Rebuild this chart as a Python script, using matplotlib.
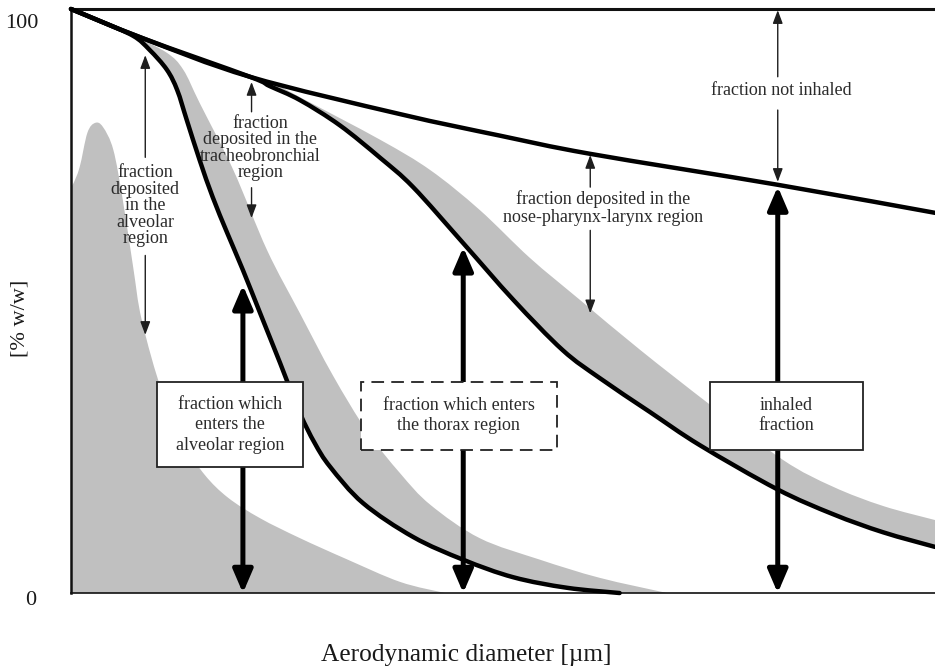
import matplotlib
matplotlib.use('Agg')
from matplotlib import pyplot as plt
from matplotlib.patches import Rectangle, PathPatch
from matplotlib.path import Path
import numpy as np

plt.rcParams['font.family'] = ['Liberation Serif', 'DejaVu Serif']

# curves, x in arbitrary diameter units (0-100), y in % w/w
inhaled_x = [0, 8.3, 20.7, 38.1, 49.7, 60.1, 81.8, 100]
inhaled_y = [100, 95.0, 88.4, 82.0, 78.3, 75.2, 69.9, 65.1]

thorax_x = [0, 8.3, 20.7, 23.0, 26.5, 31.1, 35.8, 39.6, 45.4, 51.2, 56.9, 61.2,
            67.0, 72.8, 81.7, 88.2, 94.0, 100]
thorax_y = [100, 95.0, 88.4, 86.8, 84.4, 80.1, 74.5, 69.5, 59.9, 50.2, 41.6, 36.8,
            31.0, 25.3, 17.8, 13.5, 10.4, 7.9]
thorax_band_x = [20.7, 23.4, 26.5, 35.8, 41.6, 47.3, 53.1, 58.9, 65.9, 74.0, 82.4,
                 88.2, 94.0, 100]
thorax_band_y = [88.2, 87.3, 84.9, 77.6, 72.4, 65.6, 57.4, 50.2, 41.6, 32.2, 22.8,
                 18.2, 14.9, 12.5]

alveolar_x = [0, 3.4, 7.2, 9.1, 11.1, 12.3, 13.4, 14.9, 16.4, 18.1, 19.9, 21.9,
              24.2, 26.5, 28.2, 30.0, 33.8, 39.6, 45.4, 51.2, 57.4, 63.5]
alveolar_y = [100, 97.9, 95.4, 93.0, 89.6, 86.1, 81.0, 74.1, 67.8, 61.6, 55.3, 47.9,
              39.4, 30.8, 25.7, 21.6, 15.4, 9.6, 5.7, 2.7, 0.9, 0]
alveolar_band_x = [7.2, 11.1, 13.0, 14.9, 18.8, 22.7, 26.5, 30.3, 34.3, 38.1, 41.6,
                   47.3, 54.3, 61.2, 69.0]
alveolar_band_y = [95.5, 92.5, 89.6, 83.9, 72.4, 58.7, 47.9, 37.3, 27.6, 20.5, 15.1,
                   9.4, 5.7, 2.6, 0]

dist_x = [0, 0.2, 1.0, 1.9, 2.8, 3.7, 4.9, 6.0, 7.2, 8.2, 10.6, 13.4, 15.5, 18.2,
          21.9, 26.5, 31.9, 38.1, 43.3]
dist_y = [69.9, 69.9, 72.9, 78.8, 80.5, 79.8, 75.9, 67.3, 55.8, 46.7, 34.2, 25.0,
          20.2, 16.3, 12.8, 9.4, 5.8, 1.9, 0]

GRAY = '#c0c0c0'
INK = '#1e1e1e'
TXT = '#2b2b2b'


def bezier(xs, ys):
    # smooth path through the read points (Catmull-Rom drawn as cubic Bezier)
    p = np.column_stack([xs, ys]).astype(float)
    verts = [p[0]]
    codes = [Path.MOVETO]
    n = len(p)
    for i in range(n - 1):
        p0 = p[i - 1] if i > 0 else p[i]
        p3 = p[i + 2] if i + 2 < n else p[i + 1]
        c1 = p[i] + (p[i + 1] - p0) / 6
        c2 = p[i + 1] - (p3 - p[i]) / 6
        verts += [c1, c2, p[i + 1]]
        codes += [Path.CURVE4] * 3
    return verts, codes


def band(xs1, ys1, xs2, ys2):
    # area between two left-to-right curves
    v1, c1 = bezier(xs1, ys1)
    v2, c2 = bezier(xs2[::-1], ys2[::-1])
    c2[0] = Path.LINETO
    verts = v1 + v2 + [v1[0]]
    codes = c1 + c2 + [Path.CLOSEPOLY]
    return Path(verts, codes)


fig = plt.figure(figsize=(9.35, 6.67), dpi=100)
ax = fig.add_axes([0.0759, 0.1109, 0.9241, 0.8756])
ax.set_xlim(0, 100)
ax.set_ylim(0, 100)

# grey areas
ax.add_patch(PathPatch(band(dist_x, dist_y, [0, dist_x[-1]], [0, 0]),
                       facecolor=GRAY, lw=0, zorder=1))
ax.add_patch(PathPatch(band(alveolar_x[2:], alveolar_y[2:], alveolar_band_x, alveolar_band_y),
                       facecolor=GRAY, lw=0, zorder=2))
ax.add_patch(PathPatch(band(thorax_x[2:], thorax_y[2:], thorax_band_x, thorax_band_y),
                       facecolor=GRAY, lw=0, zorder=2))

# black curves
for xs, ys in [(inhaled_x, inhaled_y), (thorax_x, thorax_y), (alveolar_x, alveolar_y)]:
    v, c = bezier(xs, ys)
    ax.add_patch(PathPatch(Path(v, c), facecolor='none', edgecolor='black', lw=3.2,
                           capstyle='round', joinstyle='round', zorder=3, clip_on=False))


def thin_arrow(x, y_from, y_to):
    ax.annotate('', xy=(x, y_to), xytext=(x, y_from),
                arrowprops=dict(arrowstyle='-|>,head_length=0.8,head_width=0.3',
                                mutation_scale=10, color=INK, lw=1.0,
                                shrinkA=0, shrinkB=0), zorder=4)


def thick_arrow(x, y_top):
    ax.annotate('', xy=(x, y_top), xytext=(x, 0),
                arrowprops=dict(arrowstyle='<|-|>,head_length=1.4,head_width=0.6',
                                mutation_scale=10, color='black', lw=3.6,
                                shrinkA=0, shrinkB=0), zorder=4)


def label(x, y, s, spacing=0.96, size=13):
    ax.text(x, y, s, ha='center', va='center', fontsize=size, color=TXT,
            linespacing=spacing, zorder=6)


def box(x0, x1, y0, y1, dashed=False):
    ax.add_patch(Rectangle((x0, y0), x1 - x0, y1 - y0, facecolor='white',
                           edgecolor='#222222', lw=1.3, zorder=5,
                           linestyle=(0, (7, 4)) if dashed else '-'))


# thin annotations
thin_arrow(8.6, 74.6, 92.1)
thin_arrow(8.6, 57.8, 44.2)
label(8.6, 66.3, 'fraction\ndeposited\nin the\nalveolar\nregion')

thin_arrow(20.9, 82.4, 87.5)
thin_arrow(20.9, 69.4, 64.2)
label(21.9, 76.2, 'fraction\ndeposited in the\ntracheobronchial\nregion')

thin_arrow(60.1, 69.5, 75.0)
thin_arrow(60.1, 62.1, 47.9)
label(61.6, 65.9, 'fraction deposited in the\nnose-pharynx-larynx region', spacing=1.05)

thin_arrow(81.8, 88.4, 99.8)
thin_arrow(81.8, 82.7, 70.4)
label(82.2, 86.1, 'fraction not inhaled')

# thick arrows with boxes
thick_arrow(19.9, 52.7)
box(9.95, 26.85, 21.6, 36.1)
label(18.4, 28.8, 'fraction which\nenters the\nalveolar region', spacing=1.25)

thick_arrow(45.4, 59.2)
box(33.6, 56.3, 24.5, 36.1, dashed=True)
label(44.9, 30.4, 'fraction which enters\nthe thorax region', spacing=1.25)

thick_arrow(81.8, 69.6)
box(74.0, 91.7, 24.5, 36.1)
label(82.8, 30.4, 'inhaled\nfraction', spacing=1.25)

# frame
ax.spines['right'].set_visible(False)
ax.spines['top'].set_linewidth(2.2)
ax.spines['left'].set_linewidth(1.8)
ax.spines['bottom'].set_linewidth(1.2)
for side in ['top', 'left', 'bottom']:
    ax.spines[side].set_color('#111111')
ax.set_xticks([])
ax.set_yticks([])

ax.text(-5.7, 97.6, '100', ha='center', va='center', fontsize=16, color='#1a1a1a',
        clip_on=False)
ax.text(-4.7, -1.2, '0', ha='center', va='center', fontsize=16, color='#1a1a1a',
        clip_on=False)
ax.text(-5.9, 47.1, '[% w/w]', ha='center', va='center', rotation=90, fontsize=16,
        color='#1a1a1a', clip_on=False)
ax.text(45.7, -10.6, 'Aerodynamic diameter [µm]', ha='center', va='center',
        fontsize=18.3, color='#1a1a1a', clip_on=False)

fig.savefig('out.png', dpi=100)
